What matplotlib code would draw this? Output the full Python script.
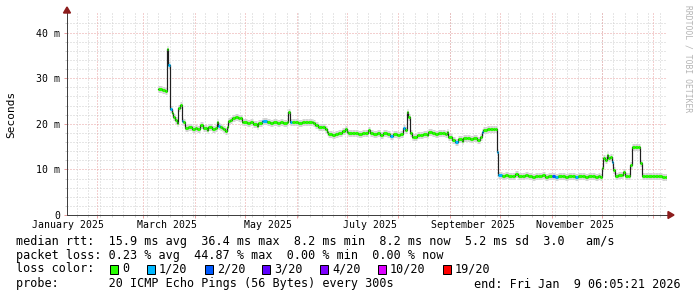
import matplotlib.pyplot as plt
import matplotlib.dates as mdates
from matplotlib.patches import Rectangle, Polygon
import numpy as np
import pandas as pd

W, H = 697, 297

# median rtt in ms, one reading per date, and lost pings (of 20) for the colour
dates = [
    "2025-03-10", "2025-03-12", "2025-03-14", "2025-03-15", "2025-03-16", "2025-03-17", "2025-03-18",
    "2025-03-19", "2025-03-20", "2025-03-21", "2025-03-22", "2025-03-23", "2025-03-24", "2025-03-25",
    "2025-03-26", "2025-03-28", "2025-03-30", "2025-04-01", "2025-04-02", "2025-04-04", "2025-04-06",
    "2025-04-08", "2025-04-09", "2025-04-11", "2025-04-13", "2025-04-14", "2025-04-15", "2025-04-16",
    "2025-04-17", "2025-04-18", "2025-04-19", "2025-04-20", "2025-04-21", "2025-04-22", "2025-04-23",
    "2025-04-25", "2025-04-27", "2025-04-28", "2025-04-29", "2025-04-30", "2025-05-02", "2025-05-04",
    "2025-05-06", "2025-05-08", "2025-05-09", "2025-05-11", "2025-05-12", "2025-05-14", "2025-05-16",
    "2025-05-18", "2025-05-20", "2025-05-22", "2025-05-24", "2025-05-26", "2025-05-27", "2025-05-28",
    "2025-05-29", "2025-05-31", "2025-06-02", "2025-06-04", "2025-06-06", "2025-06-08", "2025-06-10",
    "2025-06-11", "2025-06-12", "2025-06-14", "2025-06-16", "2025-06-18", "2025-06-19", "2025-06-20",
    "2025-06-22", "2025-06-24", "2025-06-26", "2025-06-28", "2025-06-30", "2025-07-01", "2025-07-02",
    "2025-07-04", "2025-07-06", "2025-07-08", "2025-07-10", "2025-07-12", "2025-07-14", "2025-07-15",
    "2025-07-17", "2025-07-19", "2025-07-21", "2025-07-23", "2025-07-25", "2025-07-27", "2025-07-29",
    "2025-07-31", "2025-08-02", "2025-08-04", "2025-08-05", "2025-08-06", "2025-08-07", "2025-08-08",
    "2025-08-09", "2025-08-10", "2025-08-12", "2025-08-14", "2025-08-16", "2025-08-18", "2025-08-19",
    "2025-08-21", "2025-08-23", "2025-08-25", "2025-08-27", "2025-08-29", "2025-08-30", "2025-08-31",
    "2025-09-02", "2025-09-04", "2025-09-06", "2025-09-08", "2025-09-09", "2025-09-11", "2025-09-13",
    "2025-09-15", "2025-09-17", "2025-09-19", "2025-09-20", "2025-09-21", "2025-09-23", "2025-09-25",
    "2025-09-27", "2025-09-28", "2025-09-29", "2025-09-30", "2025-10-02", "2025-10-04", "2025-10-06",
    "2025-10-08", "2025-10-10", "2025-10-12", "2025-10-14", "2025-10-16", "2025-10-18", "2025-10-20",
    "2025-10-22", "2025-10-24", "2025-10-26", "2025-10-28", "2025-10-30", "2025-11-01", "2025-11-03",
    "2025-11-05", "2025-11-07", "2025-11-09", "2025-11-11", "2025-11-13", "2025-11-15", "2025-11-17",
    "2025-11-19", "2025-11-21", "2025-11-23", "2025-11-25", "2025-11-27", "2025-11-29", "2025-11-30",
    "2025-12-01", "2025-12-02", "2025-12-03", "2025-12-04", "2025-12-05", "2025-12-06", "2025-12-07",
    "2025-12-08", "2025-12-09", "2025-12-11", "2025-12-13", "2025-12-14", "2025-12-15", "2025-12-17",
    "2025-12-18", "2025-12-19", "2025-12-21", "2025-12-23", "2025-12-24", "2025-12-25", "2025-12-27",
    "2025-12-29", "2025-12-31", "2026-01-02", "2026-01-04", "2026-01-06", "2026-01-08", "2026-01-09",
]
median_ms = [
    27.6, 27.4, 27.1, 36.4, 32.9, 23.3, 22.4,
    21.5, 20.8, 20.1, 23.4, 24.1, 20.6, 20.4,
    19.0, 19.2, 18.9, 19.1, 18.8, 19.7, 19.1,
    18.7, 19.3, 18.8, 19.0, 20.3, 19.6, 19.2,
    19.0, 18.8, 18.4, 19.4, 20.6, 20.9, 21.2,
    21.4, 21.3, 21.2, 20.4, 20.3, 20.2, 20.3,
    20.0, 19.6, 20.1, 20.6, 20.7, 20.3, 20.2,
    20.4, 20.1, 20.3, 20.2, 20.4, 22.5, 20.4,
    20.3, 20.5, 20.2, 20.4, 20.3, 20.5, 20.4,
    20.1, 19.7, 19.4, 19.4, 18.8, 18.3, 17.7,
    17.6, 17.8, 17.9, 18.4, 18.8, 18.3, 18.0,
    17.9, 18.0, 17.8, 17.9, 17.9, 18.7, 17.9,
    17.7, 17.9, 17.6, 17.9, 17.7, 17.3, 17.8,
    17.6, 17.8, 19.0, 18.7, 22.5, 21.6, 17.9,
    17.2, 17.0, 17.6, 17.5, 17.7, 17.5, 18.3,
    17.9, 17.8, 18.0, 17.9, 17.8, 18.3, 17.2,
    16.5, 16.1, 16.6, 16.3, 16.8, 16.9, 16.7,
    16.8, 16.4, 17.2, 18.3, 18.7, 18.9, 18.8,
    18.9, 18.8, 13.9, 8.8, 8.5, 8.7, 8.5,
    8.6, 8.9, 8.6, 8.5, 8.7, 8.6, 8.4,
    8.6, 8.5, 8.7, 8.4, 8.6, 8.5, 8.4,
    8.6, 8.5, 8.3, 8.6, 8.5, 8.4, 8.6,
    8.5, 8.3, 8.6, 8.5, 8.4, 8.5, 8.4,
    10.2, 12.4, 12.1, 13.2, 12.4, 12.8, 11.7,
    9.9, 8.6, 8.8, 8.7, 9.5, 8.6, 8.6,
    11.0, 15.0, 15.0, 15.0, 11.5, 8.6, 8.5,
    8.6, 8.5, 8.5, 8.6, 8.4, 8.3, 8.2,
]
lost_pings = [
    0, 0, 0, 0, 1, 1, 0,
    0, 0, 0, 0, 0, 1, 0,
    0, 0, 0, 0, 0, 0, 0,
    0, 0, 0, 0, 0, 1, 0,
    0, 0, 0, 0, 0, 0, 0,
    0, 0, 0, 0, 0, 0, 0,
    0, 0, 0, 1, 1, 0, 0,
    0, 0, 0, 0, 0, 0, 1,
    0, 0, 0, 0, 0, 0, 0,
    0, 0, 0, 0, 0, 0, 0,
    0, 0, 0, 0, 0, 0, 0,
    0, 0, 0, 0, 0, 0, 0,
    0, 0, 0, 0, 0, 1, 0,
    0, 0, 1, 0, 0, 0, 0,
    0, 0, 0, 0, 0, 0, 0,
    0, 0, 0, 0, 0, 0, 0,
    0, 1, 0, 0, 0, 0, 0,
    0, 0, 0, 1, 0, 0, 0,
    0, 0, 1, 1, 0, 0, 0,
    0, 0, 0, 0, 0, 0, 0,
    0, 0, 0, 0, 0, 2, 1,
    0, 0, 0, 0, 0, 1, 0,
    0, 0, 0, 0, 0, 0, 0,
    0, 0, 0, 0, 0, 0, 1,
    0, 0, 0, 0, 0, 0, 0,
    0, 0, 0, 0, 0, 0, 0,
    0, 0, 0, 0, 0, 0, 0,
]

loss_labels = ["0", "1/20", "2/20", "3/20", "4/20", "10/20", "19/20"]
loss_counts = [0, 1, 2, 3, 4, 10, 19]
loss_colors = ["#26ff00", "#00b8ff", "#0059ff", "#5e00ff", "#7e00ff", "#dd00ff", "#ff0000"]

y_ticks = [0, 10, 20, 30, 40]
y_tick_labels = ["0", "10 m", "20 m", "30 m", "40 m"]
label_months = ["2025-01", "2025-03", "2025-05", "2025-07", "2025-09", "2025-11"]

end_time = pd.Timestamp("2026-01-09 06:05:21")
start_time = end_time - pd.Timedelta(days=360)

legend_lines = [
    "median rtt:  15.9 ms avg  36.4 ms max  8.2 ms min  8.2 ms now  5.2 ms sd  3.0   am/s",
    "packet loss: 0.23 % avg  44.87 % max  0.00 % min  0.00 % now",
]
probe_text = "probe:       20 ICMP Echo Pings (56 Bytes) every 300s"
end_text = "end: Fri Jan  9 06:05:21 2026"

MONO = "DejaVu Sans Mono"
plt.rcParams["font.family"] = MONO

GRID = "#cfcfcf"
MGRID = "#e8a0a0"


def fx(x):
    return x / W


def fy(y):
    return 1 - y / H


def pt(px):
    return px * 72 / 100


def loss_color(n):
    idx = 0
    for i, c in enumerate(loss_counts):
        if n >= c:
            idx = i
    return loss_colors[idx]


fig = plt.figure(figsize=(W / 100, H / 100), dpi=100)
ax = fig.add_axes([fx(67), fy(215), fx(600), 202 / H])

t = mdates.date2num(pd.to_datetime(dates).to_pydatetime())
t_end = mdates.date2num(end_time.to_pydatetime())
edges = np.append(t, t_end)
vals = np.array(median_ms)

x0 = mdates.date2num(start_time.to_pydatetime())
ax.set_xlim(x0, t_end)
ax.set_ylim(0, 44.3)

# grid
minor_y = [y for y in np.arange(2, 44, 2) if y % 10 != 0]
weeks = [mdates.date2num(d.to_pydatetime())
         for d in pd.date_range(start_time.normalize(), end_time, freq="W-MON")]
months = [mdates.date2num(d.to_pydatetime())
          for d in pd.date_range("2025-02-01", end_time, freq="MS")]
for y in minor_y:
    ax.axhline(y, color=GRID, lw=pt(1), ls=(0, (1, 2)), zorder=1)
for y in y_ticks[1:]:
    ax.axhline(y, color=MGRID, lw=pt(1), ls=(0, (1, 2)), zorder=1)
for x in weeks:
    ax.axvline(x, color=GRID, lw=pt(1), ls=(0, (1, 2)), zorder=1)
for x in months:
    ax.axvline(x, color=MGRID, lw=pt(1), ls=(0, (1, 2)), zorder=1)

# smoke, median line and loss-coloured median
ax.hlines(vals, edges[:-1], edges[1:], colors="#d4d4d4", lw=pt(7), zorder=2)
ax.step(edges, np.append(vals, vals[-1]), where="post", color="#202020", lw=pt(1.2), zorder=3)
ax.hlines(vals, edges[:-1], edges[1:], colors=[loss_color(n) for n in lost_pings],
          lw=pt(3), zorder=4)

for s in ["top", "right"]:
    ax.spines[s].set_visible(False)
for s in ["left", "bottom"]:
    ax.spines[s].set_color("#404040")
    ax.spines[s].set_linewidth(pt(1))

# small tick marks outside the axes, like the grid
ax.set_yticks(y_ticks, y_tick_labels)
ax.set_yticks(minor_y, minor=True)
ax.set_xticks(months)
ax.set_xticklabels([])
ax.set_xticks(weeks, minor=True)
ax.tick_params(axis="y", which="major", length=pt(3), width=pt(1), color=MGRID,
               pad=pt(4), labelsize=7.1)
ax.tick_params(axis="y", which="minor", length=pt(2), width=pt(1), color=GRID)
ax.tick_params(axis="x", which="major", length=pt(3), width=pt(1), color=MGRID)
ax.tick_params(axis="x", which="minor", length=pt(2), width=pt(1), color=GRID)

for m in label_months:
    mid = pd.Timestamp(m + "-15")
    ax.text(mdates.date2num(mid.to_pydatetime()), -10 / 202, mid.strftime("%B %Y"),
            transform=ax.get_xaxis_transform(), ha="center", va="center", fontsize=7.1)

# arrows
fig.patches.append(Polygon([(fx(63.5), fy(13)), (fx(70.5), fy(13)), (fx(67), fy(7))],
                           closed=True, color="#8c1c1c", transform=fig.transFigure))
fig.patches.append(Polygon([(fx(668), fy(211.5)), (fx(668), fy(218.5)), (fx(674), fy(215))],
                           closed=True, color="#8c1c1c", transform=fig.transFigure))

fig.text(fx(11), fy(114), "Seconds", rotation=90, ha="center", va="center", fontsize=8)
fig.text(fx(688), fy(5), "RRDTOOL / TOBI OETIKER", rotation=270, ha="center", va="top",
         fontsize=5.8, color="#b4b4b4")

# legend
fs = 8.5
fig.text(fx(16), fy(241), legend_lines[0], ha="left", va="center", fontsize=fs)
fig.text(fx(16), fy(255), legend_lines[1], ha="left", va="center", fontsize=fs)
fig.text(fx(16), fy(269), "loss color:", ha="left", va="center", fontsize=fs)
box_x = [110, 147, 205, 262, 320, 378, 443]
for bx, lab, col in zip(box_x, loss_labels, loss_colors):
    fig.patches.append(Rectangle((fx(bx), fy(273.5)), fx(8), 9 / H, facecolor=col,
                                 edgecolor="black", lw=pt(1), transform=fig.transFigure))
    fig.text(fx(bx + 12), fy(269), lab, ha="left", va="center", fontsize=fs)
fig.text(fx(16), fy(284), probe_text, ha="left", va="center", fontsize=fs)
fig.text(fx(681), fy(284), end_text, ha="right", va="center", fontsize=fs)

fig.savefig("out.png", dpi=100)
